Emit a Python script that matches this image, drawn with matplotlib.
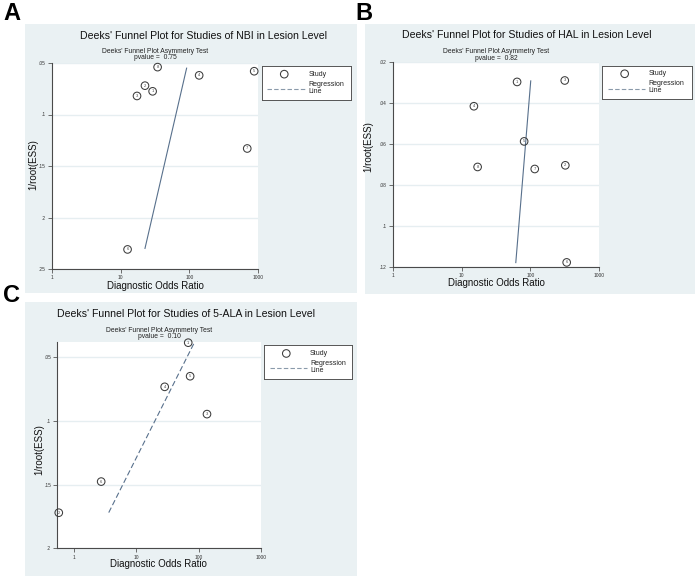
import matplotlib
matplotlib.use("Agg")
import matplotlib.pyplot as plt
from matplotlib.patches import Rectangle
from matplotlib.lines import Line2D

plt.rcParams['font.family'] = ['Liberation Sans', 'DejaVu Sans']

W, H = 698, 580
BG = '#eaf1f3'
MK = '#3c3c3c'
REG = '#58708c'

# ---------------- data ----------------
a_title = "Deeks' Funnel Plot for Studies of NBI in Lesion Level"
a_pvalue = "0.75"
a_dor = [34.5, 139, 880, 22.6, 29.2, 17.3, 697, 12.6]
a_ess = [0.054, 0.062, 0.058, 0.072, 0.0775, 0.082, 0.133, 0.231]
a_study = ["8", "4", "5", "2", "1", "3", "7", "6"]
a_reg_dor = [22.6, 91.3]
a_reg_ess = [0.230, 0.055]
a_yticks = [0.05, 0.10, 0.15, 0.20, 0.25]
a_yticklabels = [".05", ".1", ".15", ".2", ".25"]

b_title = "Deeks' Funnel Plot for Studies of HAL in Lesion Level"
b_pvalue = "0.82"
b_dor = [64, 315, 15.1, 81, 17.1, 115.5, 321, 336]
b_ess = [0.0296, 0.0289, 0.0415, 0.0587, 0.0712, 0.0722, 0.0704, 0.1179]
b_study = ["1", "3", "4", "5", "8", "7", "2", "6"]
b_reg_dor = [61.3, 101]
b_reg_ess = [0.118, 0.0291]
b_yticks = [0.02, 0.04, 0.06, 0.08, 0.10, 0.12]
b_yticklabels = [".02", ".04", ".06", ".08", ".1", ".12"]

c_title = "Deeks' Funnel Plot for Studies of 5-ALA in Lesion Level"
c_pvalue = "0.10"
c_dor = [68, 73, 28.5, 136, 2.73, 0.57]
c_ess = [0.0388, 0.0651, 0.0734, 0.0948, 0.1477, 0.1721]
c_study = ["1", "5", "4", "3", "6", "2"]
c_reg_dor = [3.61, 85.7]
c_reg_ess = [0.172, 0.0385]
c_yticks = [0.05, 0.10, 0.15, 0.20]
c_yticklabels = [".05", ".1", ".15", ".2"]

xticks = [1, 10, 100, 1000]
xticklabels = ["1", "10", "100", "1000"]
subtitle = "Deeks' Funnel Plot Asymmetry Test"
xlabel = "Diagnostic Odds Ratio"
ylabel = "1/root(ESS)"
legend_labels = ["Study", "Regression\nLine"]

fig = plt.figure(figsize=(W / 100, H / 100), dpi=100)
fig.patch.set_facecolor('white')


def fx(x):
    return x / W


def fy(y):
    return 1 - y / H


def add_bg(x0, y0, x1, y1):
    fig.patches.append(Rectangle((fx(x0), fy(y1)), fx(x1) - fx(x0), fy(y0) - fy(y1),
                                 transform=fig.transFigure, facecolor=BG,
                                 edgecolor='none', zorder=-5))


def panel(box, xlim, ylim, yticks, yticklabels, dor, ess, study, reg_dor, reg_ess,
          reg_style, title, title_xy, sub_xy, pval, xl_xy, yl_xy, leg_box):
    x0, y0, x1, y1 = box
    ax = fig.add_axes([fx(x0), fy(y1), fx(x1) - fx(x0), fy(y0) - fy(y1)])
    ax.set_zorder(2)
    ax.set_facecolor('white')
    ax.set_xscale('log')
    ax.set_xlim(*xlim)
    ax.set_ylim(ylim[1], ylim[0])
    ax.set_xticks(xticks)
    ax.set_xticklabels(xticklabels)
    ax.minorticks_off()
    ax.set_yticks(yticks)
    ax.set_yticklabels(yticklabels)
    ax.tick_params(axis='both', labelsize=3.5, length=3, width=0.6, color='#555555',
                   labelcolor='#333333', pad=1.5)
    for t in yticks:
        ax.axhline(t, color='#e6eef1', lw=1.0, zorder=0)
    for s in ['top', 'right']:
        ax.spines[s].set_visible(False)
    for s in ['left', 'bottom']:
        ax.spines[s].set_color('#4a4a4a')
        ax.spines[s].set_linewidth(0.8)
    ax.plot(reg_dor, reg_ess, color=REG, lw=0.8, linestyle=reg_style, zorder=2)
    ax.scatter(dor, ess, s=30, facecolors='none', edgecolors=MK, linewidths=0.75,
               zorder=3, clip_on=False)
    for xv, yv, lab in zip(dor, ess, study):
        ax.text(xv, yv, lab, fontsize=3, ha='center', va='center', color='#444444',
                zorder=4, clip_on=False)
    fig.text(fx(title_xy[0]), fy(title_xy[1]), title, fontsize=7.6, ha='center',
             va='center', color='#111111')
    fig.text(fx(sub_xy[0]), fy(sub_xy[1]), subtitle, fontsize=4.9, ha='center',
             va='center', color='#222222')
    fig.text(fx(sub_xy[0]), fy(sub_xy[1] + 6.3), "pvalue =  " + pval, fontsize=4.9,
             ha='center', va='center', color='#222222')
    fig.text(fx(xl_xy[0]), fy(xl_xy[1]), xlabel, fontsize=7.0, ha='center',
             va='center', color='#111111')
    fig.text(fx(yl_xy[0]), fy(yl_xy[1]), ylabel, fontsize=7.0, ha='center',
             va='center', rotation=90, color='#111111')
    # legend
    lx0, ly0, lx1, ly1 = leg_box
    lax = fig.add_axes([fx(lx0), fy(ly1), fx(lx1) - fx(lx0), fy(ly0) - fy(ly1)])
    lax.set_zorder(2)
    lax.set_xlim(0, 1)
    lax.set_ylim(1, 0)
    lax.set_xticks([])
    lax.set_yticks([])
    lax.set_facecolor('white')
    for s in lax.spines.values():
        s.set_color('#555555')
        s.set_linewidth(0.7)
    lax.scatter([0.25], [0.24], s=30, facecolors='none', edgecolors=MK, linewidths=0.75)
    lax.add_line(Line2D([0.06, 0.48], [0.68, 0.68], color='#8a9aaa', lw=0.8,
                        linestyle=(0, (4, 2))))
    lax.text(0.52, 0.24, legend_labels[0], fontsize=5, va='center', ha='left',
             color='#222222')
    lax.text(0.52, 0.64, legend_labels[1], fontsize=5, va='center', ha='left',
             color='#222222', linespacing=0.95)
    return ax


add_bg(25, 24, 356.7, 292.7)
add_bg(365, 24, 695, 294.3)
add_bg(25, 301.7, 357.3, 576)

panel((52, 63, 258, 269), (1, 1000), (0.05, 0.25), a_yticks, a_yticklabels,
      a_dor, a_ess, a_study, a_reg_dor, a_reg_ess, '-',
      a_title, (203.5, 36), (155.5, 51.5), a_pvalue, (155, 286), (33, 165),
      (262, 66, 351, 100))

panel((392.7, 62.3, 599.3, 266.7), (1, 1000), (0.02, 0.12), b_yticks, b_yticklabels,
      b_dor, b_ess, b_study, b_reg_dor, b_reg_ess, '-',
      b_title, (527, 35), (496.3, 51.7), b_pvalue, (496.7, 282.7), (368.3, 146.7),
      (602.3, 65.7, 691.7, 99.3))

panel((57.3, 342.3, 261, 548.3), (0.54, 1000), (0.0385, 0.20), c_yticks, c_yticklabels,
      c_dor, c_ess, c_study, c_reg_dor, c_reg_ess, (0, (5, 2.5)),
      c_title, (186, 314.3), (159, 330.7), c_pvalue, (158.8, 564.3), (39.3, 450),
      (264.3, 345.3, 352.3, 379.3))

for lab, (x, y) in zip(["A", "B", "C"], [(12, 13), (364, 13), (12, 295)]):
    fig.text(fx(x), fy(y), lab, fontsize=17, fontweight='bold', ha='center',
             va='center', color='black')

fig.savefig('out.png', dpi=100, facecolor='white')
